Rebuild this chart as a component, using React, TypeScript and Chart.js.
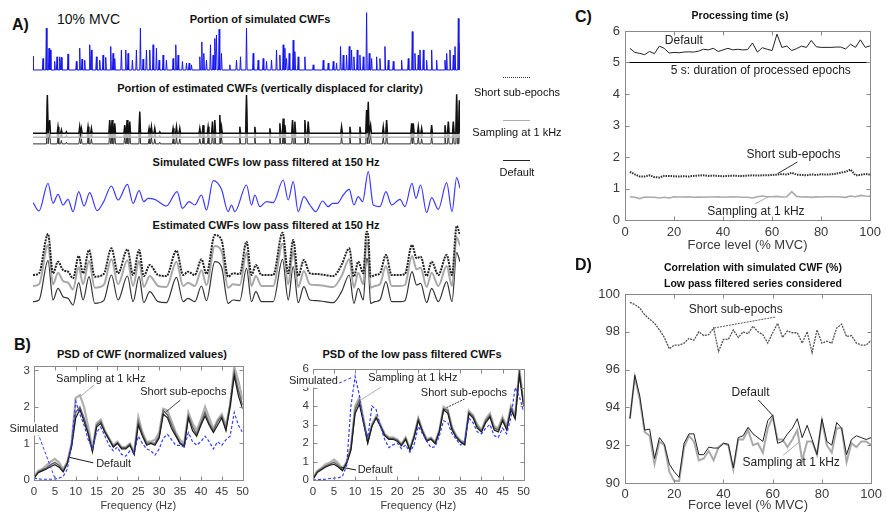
import React, { useEffect, useRef } from 'react';
import { Chart, registerables } from 'chart.js';
Chart.register(...registerables);

const FONT = '"Liberation Sans", Arial, Helvetica, sans-serif';
const TICK = '#3a3a3a';
const FRAME = '#8a8a8a';

// ---------------- Panel A (time axis in ms, 0..640) ----------------
const simSpikeTimes = [0,15,20,24,26,32.5,36,40,42.5,52.5,65,70,73.5,77.5,85,87.5,95,100,105,109,116.5,120,122.5,132.5,139,142.5,149,155,161,165,170,175,180,185,189,195,200,210,214,217.5,224,230,234,237.5,250,253,256,260,266,270,272.5,275,279,282.5,295,305,311,320,330,337.5,345,350,357.5,365,370,375,377.5,380,384,390,392.5,397.5,407.5,420,435,442.5,450,455,461,465,470,474,477.5,481,486,490,495,500,504,507.5,515,520,527.5,532.5,540,552.5,562.5,568.5,572.5,577.5,580,585,590,597.5,605,617.5,620,625,630,632.5,637.5,640];
const simSpikeHeights = [24,20,73,38,35,15,23,23,22,28,15,38,19,17,44,35,23,17,26,22,41,29,20,35,35,29,17,35,73,19,35,35,44,38,17,26,17,20,44,26,15,12,12,9,23,49,29,17,44,26,55,61,71,29,9,17,23,73,29,17,20,15,17,35,26,44,38,20,29,52,32,23,23,9,17,12,15,12,41,26,26,41,35,23,35,26,23,100,29,20,23,20,41,17,15,17,20,67,29,26,35,35,17,35,17,17,29,35,26,41,90,47];

const estSpikeTimes = [21.5,25,37.5,42.5,50,70,72.5,82.5,87.5,115,118.5,122.5,137.5,141,145,160,174,177.5,182.5,190,210,215,220,250,255,262.5,269,272.5,280,282.5,310,320,332.5,355,370,375,377.5,389,392.5,407.5,412.5,462.5,475,490,500,502.5,506,525,530,567.5,570,577.5,582.5,597.5,617.5,622.5,630,635,639];
const estSpikeHeights = [98,34,17,9,4,17,13,17,13,34,34,26,21,34,30,56,13,17,13,4,13,17,13,13,21,17,30,34,47,17,17,98,17,13,26,38,21,34,30,34,30,17,17,17,60,81,21,17,34,26,26,17,13,21,21,30,30,100,85];
// vertical displacement of the three estimates: short sub-epochs, sampling at 1 kHz, default
const estSpikeOffsets = [0, 10.3, 27];

const simSmoothTimes = [0,9,22.5,30,37.5,45,52.5,60,68.5,76.5,85,96,106,117.5,127.5,141.5,150,159,166,172.5,182.5,200,216,224,234,242.5,252.5,260,270,282.5,292.5,297.5,302.5,320,327.5,332.5,340,350,360,375,382.5,390,397.5,406,415,424,434,442.5,449,456,465,474,481,487.5,494,502.5,510,520,529,537.5,550,557.5,568,574,581,590,597.5,607.5,620,628,635,640];
const simSmoothValues = [32,7,90,30,57,25,42,5,65,22,62,8,35,82,40,87,30,68,35,45,42,22,65,15,35,25,55,10,98,72,5,25,5,85,25,55,20,35,32,100,40,95,5,50,25,5,37,20,30,30,55,72,25,50,35,125,25,20,65,25,42,20,90,45,85,2,47,12,92,5,107,75];

const estSmoothTimes = [0,9,22.5,30,37.5,45,52.5,60,68.5,75,84,92.5,106,117.5,127.5,141.5,150,159,166,175,187.5,200,215,225,232.5,242.5,252.5,260,272.5,282.5,292.5,300,310,320,327.5,334,342.5,350,360,374,382.5,390,397.5,406,415,425,437.5,450,462.5,474,481,487.5,495,500,502.5,506,512.5,520,529,537.5,550,557.5,568,575,581,590,597.5,607.5,620,628,635,640];
const estSmoothValues = [10,15,133,15,50,25,20,0,67,15,85,5,13,90,15,87,10,85,7,40,10,7,83,10,20,10,57,13,130,115,5,15,13,110,10,40,10,10,10,137,15,115,7,55,15,13,10,7,40,90,5,50,15,140,125,5,10,15,70,10,10,13,100,60,65,7,50,10,70,10,157,130];
const estSmoothOffsets = [0, 33, 80];

// ---------------- Panel B ----------------
const freqs = [0,1,2,3,4,5,6,7,8,9,10,11,12,13,14,15,16,17,18,19,20,21,22,23,24,25,26,27,28,29,30,31,32,33,34,35,36,37,38,39,40,41,42,43,44,45,46,47,48,49,50];
const psdSimulated = [0.05,0.03,0.02,0.02,0.02,0.03,0.05,0.1,0.3,1.0,2.15,1.8,1.5,1.1,0.85,1.3,1.45,1.2,0.95,0.8,0.9,0.7,0.65,0.8,0.75,1.2,1.0,0.85,0.8,0.68,0.85,1.15,1.25,1.1,0.95,0.95,0.9,1.3,1.05,0.95,1.05,1.2,1.05,0.85,1.05,0.95,1.1,1.2,1.85,1.5,1.3];
const psdDefault = [0.05,0.2,0.25,0.3,0.37,0.42,0.35,0.22,0.45,0.9,1.7,1.93,1.6,1.25,0.78,1.45,1.55,1.3,1.1,0.9,1.0,0.85,0.85,0.95,0.7,1.5,1.2,0.95,1.0,0.95,1.15,1.8,1.7,1.4,1.2,1.0,0.92,1.7,1.35,1.2,1.5,1.75,1.5,1.3,1.5,1.7,1.35,2.0,2.85,2.3,1.95];
const psdShort = [0.05,0.22,0.28,0.33,0.42,0.48,0.4,0.25,0.48,0.95,1.85,2.0,1.7,1.3,0.8,1.5,1.6,1.33,1.12,0.92,1.02,0.88,0.88,0.98,0.72,1.6,1.25,1.0,1.02,1.0,1.2,1.9,1.78,1.5,1.25,1.02,0.95,1.75,1.45,1.25,1.55,1.85,1.55,1.35,1.6,1.75,1.4,2.1,2.95,2.45,2.05];
const psdSampling = [0.08,0.25,0.3,0.4,0.5,0.58,0.48,0.3,0.5,1.0,2.25,2.32,2.0,1.45,0.85,1.55,1.65,1.35,1.15,0.95,1.05,0.9,0.9,1.0,0.75,1.72,1.3,1.05,1.05,1.1,1.3,1.95,1.9,1.6,1.3,1.1,1.0,1.85,1.55,1.35,1.65,2.0,1.7,1.4,1.65,1.8,1.5,2.0,3.1,2.7,2.2];

const lpSimulated = [0.0,0.02,0.03,0.05,0.08,0.1,0.12,0.2,0.8,4.0,5.6,4.6,3.0,2.3,4.0,3.8,2.9,2.2,1.75,1.9,2.0,1.7,1.9,1.5,1.9,2.9,2.5,2.1,1.75,1.8,2.4,3.2,3.1,2.5,2.2,1.9,2.1,3.35,3.1,2.6,2.5,2.8,3.0,2.4,2.3,2.8,2.5,3.4,5.0,4.5,3.7];
const lpDefault = [0.05,0.4,0.55,0.7,0.8,0.85,0.7,0.5,0.9,1.6,3.6,4.1,3.1,2.0,2.9,3.35,2.9,2.4,2.2,2.2,2.1,1.85,2.2,1.6,2.3,3.2,2.6,2.1,2.2,1.97,2.6,3.8,3.6,2.7,2.3,2.05,1.9,3.6,3.35,2.8,2.6,3.1,3.4,2.7,2.6,3.2,2.7,3.8,3.3,5.7,4.0];
const lpShort = [0.05,0.45,0.6,0.75,0.85,0.95,0.78,0.55,0.95,1.7,3.8,4.3,3.2,2.05,2.95,3.4,2.95,2.45,2.25,2.25,2.15,1.9,2.25,1.65,2.35,3.3,2.65,2.15,2.25,2.0,2.65,3.85,3.75,2.8,2.35,2.1,1.95,3.65,3.45,2.9,2.65,3.2,3.5,2.8,2.7,3.3,2.8,3.9,3.4,5.8,4.1];
const lpSampling = [0.1,0.5,0.65,0.85,0.95,1.1,0.9,0.6,1.0,1.8,4.0,4.45,3.3,2.1,3.0,3.45,3.0,2.5,2.3,2.3,2.2,1.95,2.3,1.7,2.4,3.35,2.7,2.2,2.3,2.05,2.7,3.95,3.8,2.85,2.4,2.15,2.0,3.75,3.5,3.0,2.7,3.3,3.6,2.9,2.8,3.4,2.9,4.0,3.5,6.0,4.2];

// ---------------- Panels C & D (force level % MVC) ----------------
const forceLevels = [2,4,6,8,10,12,14,16,18,20,22,24,26,28,30,32,34,36,38,40,42,44,46,48,50,52,54,56,58,60,62,64,66,68,70,72,74,76,78,80,82,84,86,88,90,92,94,96,98,100];
const timeDefault = [5.45,5.32,5.29,5.25,5.35,5.28,5.52,5.45,5.3,5.32,5.31,5.33,5.34,5.33,5.36,5.42,5.4,5.45,5.35,5.4,5.45,5.4,5.42,5.4,5.41,5.62,5.33,5.47,5.42,5.38,5.9,5.48,5.52,5.38,5.44,5.52,5.48,5.7,5.5,5.48,5.48,5.48,5.49,5.49,5.43,5.58,5.48,5.72,5.48,5.53];
const timeShort = [1.53,1.45,1.38,1.38,1.42,1.36,1.35,1.4,1.4,1.39,1.38,1.39,1.38,1.4,1.41,1.42,1.4,1.41,1.4,1.39,1.4,1.41,1.4,1.4,1.41,1.42,1.41,1.42,1.42,1.43,1.44,1.46,1.44,1.5,1.44,1.43,1.42,1.45,1.43,1.45,1.44,1.45,1.47,1.5,1.53,1.6,1.42,1.43,1.46,1.44];
const timeSampling = [0.74,0.72,0.68,0.73,0.72,0.72,0.7,0.72,0.7,0.74,0.73,0.73,0.74,0.72,0.73,0.72,0.73,0.73,0.74,0.72,0.73,0.74,0.73,0.72,0.72,0.7,0.74,0.76,0.74,0.74,0.75,0.73,0.74,0.9,0.75,0.73,0.74,0.72,0.74,0.73,0.74,0.74,0.74,0.73,0.72,0.76,0.74,0.78,0.76,0.75];
const epochX = [0, 100];
const epochDuration = [5, 5];

const corrShort = [99.56,99.44,99.26,98.9,98.67,98.45,98.1,97.7,97.1,97.3,97.3,97.4,97.65,97.55,98.0,97.8,97.85,98.2,96.97,97.6,97.6,98.1,97.7,98.0,97.9,98.3,98.0,97.85,97.4,97.95,98.45,97.7,98.05,97.95,97.95,97.4,98.0,96.9,98.1,97.4,97.5,97.4,98.2,98.4,97.75,97.8,97.4,97.3,97.3,97.55];
const corrDefault = [93.4,95.7,94.6,92.8,92.85,91.3,92.4,92.05,91.0,90.6,90.3,92.1,92.6,92.6,91.5,91.5,91.9,91.85,91.85,92.1,92.05,90.8,92.4,92.5,92.95,92.6,92.4,92.2,93.3,93.6,92.1,92.2,92.6,92.9,93.4,92.4,93.05,92.3,91.5,93.4,92.2,92.0,93.2,92.9,91.5,92.3,92.5,92.4,92.3,92.4];
const corrSampling = [93.4,95.6,94.4,92.7,92.5,91.0,92.2,92.0,90.6,90.1,90.1,91.9,92.5,92.2,91.2,91.3,91.7,91.2,91.9,92.1,92.0,90.7,92.3,92.3,92.8,92.0,92.1,91.6,92.9,93.5,92.3,92.3,91.9,92.3,92.8,91.2,92.2,92.2,91.5,93.3,92.0,91.6,92.9,92.9,91.1,92.1,91.9,92.2,92.2,92.0];

// ---------------- helpers ----------------
const T_END = 640;

function pts(xs: number[], ys: number[]) {
  return xs.map((x, i) => ({ x, y: ys[i] }));
}

function spikePoints(times: number[], heights: number[], w: number, offset: number) {
  const out: { x: number; y: number }[] = [];
  const base = -offset;
  if (times[0] - w > 0) out.push({ x: 0, y: base });
  times.forEach((t, i) => {
    out.push({ x: t - w, y: base }, { x: t, y: base + heights[i] }, { x: t + w, y: base });
  });
  if (times[times.length - 1] + w < T_END) out.push({ x: T_END, y: base });
  return out;
}

function line(data: any[], color: string, width: number, dash: number[] = [], extra: any = {}) {
  return {
    data, borderColor: color, borderWidth: width, borderDash: dash,
    pointRadius: 0, fill: false, tension: 0, ...extra,
  };
}

function traceConfig(datasets: any[], yMin: number, yMax: number) {
  return {
    type: 'line',
    data: { datasets },
    options: {
      animation: false, responsive: false, events: [],
      layout: { padding: 0 },
      plugins: { legend: { display: false }, tooltip: { enabled: false } },
      scales: {
        x: { type: 'linear', display: false, min: 0, max: T_END },
        y: { type: 'linear', display: false, min: yMin, max: yMax },
      },
    },
  };
}

const framePlugin = {
  id: 'frame',
  afterDatasetsDraw(chart: any) {
    const { ctx, chartArea: a } = chart;
    const xs = chart.scales.x, ys = chart.scales.y;
    ctx.save();
    ctx.strokeStyle = FRAME;
    ctx.lineWidth = 1;
    ctx.setLineDash([]);
    const L = Math.round(a.left) + 0.5, R = Math.round(a.right) + 0.5;
    const T = Math.round(a.top) + 0.5, B = Math.round(a.bottom) + 0.5;
    ctx.strokeRect(L, T, R - L, B - T);
    const tl = 4;
    ctx.beginPath();
    for (const t of xs.ticks) {
      const px = Math.round(xs.getPixelForValue(t.value)) + 0.5;
      ctx.moveTo(px, B); ctx.lineTo(px, B - tl);
      ctx.moveTo(px, T); ctx.lineTo(px, T + tl);
    }
    for (const t of ys.ticks) {
      const py = Math.round(ys.getPixelForValue(t.value)) + 0.5;
      ctx.moveTo(L, py); ctx.lineTo(L + tl, py);
      ctx.moveTo(R, py); ctx.lineTo(R - tl, py);
    }
    ctx.stroke();
    ctx.restore();
  },
};

type Note = { text: string; x: number; y: number; align?: 'left' | 'center'; bg?: boolean };
type Pointer = { x1: number; y1: number; x2: number; y2: number; color: string; width?: number; dash?: number[] };

function notesPlugin(notes: Note[], pointers: Pointer[], size: number) {
  return {
    id: 'notes',
    afterDraw(chart: any) {
      const { ctx } = chart;
      const xs = chart.scales.x, ys = chart.scales.y;
      ctx.save();
      for (const p of pointers) {
        ctx.beginPath();
        ctx.strokeStyle = p.color;
        ctx.lineWidth = p.width ?? 1;
        ctx.setLineDash(p.dash ?? []);
        ctx.moveTo(xs.getPixelForValue(p.x1), ys.getPixelForValue(p.y1));
        ctx.lineTo(xs.getPixelForValue(p.x2), ys.getPixelForValue(p.y2));
        ctx.stroke();
      }
      ctx.setLineDash([]);
      ctx.font = `${size}px ${FONT}`;
      ctx.textBaseline = 'middle';
      ctx.textAlign = 'left';
      for (const n of notes) {
        const px = xs.getPixelForValue(n.x), py = ys.getPixelForValue(n.y);
        const w = ctx.measureText(n.text).width;
        const left = n.align === 'left' ? px : px - w / 2;
        if (n.bg) {
          ctx.fillStyle = '#fff';
          ctx.fillRect(left - 1, py - size * 0.6, w + 2, size * 1.2);
        }
        ctx.fillStyle = '#222';
        ctx.fillText(n.text, left, py);
      }
      ctx.restore();
    },
  };
}

type AxisParams = {
  datasets: any[];
  xMin: number; xMax: number; xStep: number;
  yMin: number; yMax: number; yStep: number;
  xTitle: string;
  yAxisW: number; xAxisH: number; padTop: number; padRight: number;
  tickSize: number; labelSize: number; xTickPad: number; yTickPad: number;
  notes: Note[]; pointers: Pointer[]; noteSize: number;
};

function axisConfig(p: AxisParams) {
  return {
    type: 'line',
    data: { datasets: p.datasets },
    options: {
      animation: false, responsive: false, events: [],
      layout: { padding: { top: p.padTop, right: p.padRight, left: 0, bottom: 0 } },
      plugins: { legend: { display: false }, tooltip: { enabled: false } },
      scales: {
        x: {
          type: 'linear', min: p.xMin, max: p.xMax,
          afterFit: (s: any) => { s.height = p.xAxisH; },
          grid: { display: false, drawTicks: false },
          border: { display: false },
          ticks: {
            stepSize: p.xStep, autoSkip: false, maxRotation: 0, minRotation: 0, includeBounds: false,
            font: { family: FONT, size: p.tickSize }, color: TICK, padding: p.xTickPad,
          },
          title: {
            display: true, text: p.xTitle, color: TICK,
            font: { family: FONT, size: p.labelSize }, padding: { top: 0, bottom: 0 },
          },
        },
        y: {
          type: 'linear', min: p.yMin, max: p.yMax,
          afterFit: (s: any) => { s.width = p.yAxisW; },
          grid: { display: false, drawTicks: false },
          border: { display: false },
          ticks: {
            stepSize: p.yStep, autoSkip: false, includeBounds: false,
            font: { family: FONT, size: p.tickSize }, color: TICK, padding: p.yTickPad,
          },
        },
      },
    },
    plugins: [framePlugin, notesPlugin(p.notes, p.pointers, p.noteSize)],
  };
}

function ChartCanvas({ left, top, width, height, make }: { left: number; top: number; width: number; height: number; make: () => any }) {
  const ref = useRef<HTMLCanvasElement>(null);
  useEffect(() => {
    const chart = new Chart(ref.current as HTMLCanvasElement, make());
    return () => chart.destroy();
  }, []);
  return (
    <canvas ref={ref} width={width} height={height}
      style={{ position: 'absolute', left, top, width, height }} />
  );
}

function Label({ x, y, text, size, bold = false, align = 'left' }: { x: number; y: number; text: string; size: number; bold?: boolean; align?: 'left' | 'center' }) {
  const style: React.CSSProperties = {
    position: 'absolute', top: y - size * 0.6, fontSize: size, lineHeight: `${size * 1.2}px`,
    fontWeight: bold ? 'bold' : 'normal', whiteSpace: 'nowrap', color: '#111', fontFamily: FONT,
  };
  if (align === 'center') { style.left = x - 300; style.width = 600; style.textAlign = 'center'; }
  else style.left = x;
  return <div style={style}>{text}</div>;
}

function LegendLine({ x, y, w, style }: { x: number; y: number; w: number; style: string }) {
  return <div style={{ position: 'absolute', left: x, top: y, width: w, height: 0, borderTop: style }} />;
}

// ---------------- colours ----------------
const BLUE = '#3340ff';
const DARK = '#1a1a1a';
const MID = '#666666';
const LIGHT = '#b0b0b0';

export default function App() {
  const simSpikes = () => traceConfig([
    line(spikePoints(simSpikeTimes, simSpikeHeights, 0.9, 0), '#1414ee', 1),
  ], -3.5, 104.7);

  const estSpikes = () => traceConfig([
    line(spikePoints(estSpikeTimes, estSpikeHeights, 1.2, estSpikeOffsets[0]), '#111', 1.5),
    line(spikePoints(estSpikeTimes, estSpikeHeights, 1.2, estSpikeOffsets[1]), '#b8b8b8', 1.5),
    line(spikePoints(estSpikeTimes, estSpikeHeights, 1.2, estSpikeOffsets[2]), '#333', 1),
  ], -35, 106);

  const simSmooth = () => traceConfig([
    line(pts(simSmoothTimes, simSmoothValues), '#3a3aff', 1.2, [], { cubicInterpolationMode: 'monotone' }),
  ], -8, 136);

  const estSmooth = () => traceConfig(estSmoothOffsets.map((off, k) => {
    const data = estSmoothTimes.map((t, i) => ({ x: t, y: estSmoothValues[i] - off }));
    const styles = [
      { c: '#222', w: 2, d: [2, 1] },
      { c: '#a8a8a8', w: 2, d: [] },
      { c: '#333', w: 1.2, d: [] },
    ][k];
    return line(data, styles.c, styles.w, styles.d, { cubicInterpolationMode: 'monotone' });
  }), -101, 163);

  const bLeft = () => axisConfig({
    datasets: [
      line(pts(freqs, psdSimulated), BLUE, 1.2, [3, 2]),
      line(pts(freqs, psdDefault), DARK, 1.2),
      line(pts(freqs, psdShort), MID, 1.5),
      line(pts(freqs, psdSampling), LIGHT, 2.2),
    ],
    xMin: 0, xMax: 50, xStep: 5, yMin: 0, yMax: 3.12, yStep: 1,
    xTitle: 'Frequency (Hz)',
    yAxisW: 34, xAxisH: 33, padTop: 26, padRight: 8,
    tickSize: 11.5, labelSize: 11, xTickPad: 5, yTickPad: 4,
    noteSize: 11,
    notes: [
      { text: 'Sampling at 1 kHz', x: 16.0, y: 2.77 },
      { text: 'Short sub-epochs', x: 35.8, y: 2.41 },
      { text: 'Default', x: 14.9, y: 0.44, align: 'left' },
      { text: 'Simulated', x: 0, y: 1.4, bg: true },
    ],
    pointers: [
      { x1: 14.4, y1: 2.6, x2: 11.3, y2: 2.3, color: LIGHT },
      { x1: 35.1, y1: 2.19, x2: 31.5, y2: 1.85, color: '#444' },
      { x1: 14.2, y1: 0.47, x2: 8.5, y2: 0.62, color: DARK },
      { x1: 0.9, y1: 1.29, x2: 5, y2: 0.05, color: BLUE, dash: [3, 2] },
    ],
  });

  const bRight = () => axisConfig({
    datasets: [
      line(pts(freqs, lpSimulated), BLUE, 1.2, [3, 2]),
      line(pts(freqs, lpDefault), DARK, 1.2),
      line(pts(freqs, lpShort), MID, 1.5),
      line(pts(freqs, lpSampling), LIGHT, 2.2),
    ],
    xMin: 0, xMax: 50, xStep: 5, yMin: 0, yMax: 6, yStep: 1,
    xTitle: 'Frequency (Hz)',
    yAxisW: 38, xAxisH: 33, padTop: 29, padRight: 8,
    tickSize: 11.5, labelSize: 11, xTickPad: 5, yTickPad: 4,
    noteSize: 11,
    notes: [
      { text: 'Simulated', x: 0.1, y: 5.35, bg: true },
      { text: 'Sampling at 1 kHz', x: 23.7, y: 5.51 },
      { text: 'Short sub-epochs', x: 25.6, y: 4.7, align: 'left' },
      { text: 'Default', x: 10.6, y: 0.54, align: 'left' },
    ],
    pointers: [
      { x1: 6.2, y1: 5.24, x2: 9.3, y2: 5.55, color: BLUE, dash: [3, 2] },
      { x1: 16.2, y1: 5.03, x2: 11.2, y2: 4.3, color: LIGHT },
      { x1: 36, y1: 4.38, x2: 31.6, y2: 3.9, color: '#333', dash: [2, 1] },
      { x1: 10.2, y1: 0.54, x2: 6.6, y2: 0.7, color: DARK },
    ],
  });

  const cChart = () => axisConfig({
    datasets: [
      line(pts(forceLevels, timeDefault), '#222', 1),
      line(pts(epochX, epochDuration), '#000', 1.2),
      line(pts(forceLevels, timeShort), '#333', 2, [1.5, 1]),
      line(pts(forceLevels, timeSampling), '#aaa', 1.6),
    ],
    xMin: 0, xMax: 100, xStep: 20, yMin: 0, yMax: 6, yStep: 1,
    xTitle: 'Force level (% MVC)',
    yAxisW: 37, xAxisH: 33, padTop: 31, padRight: 12,
    tickSize: 13, labelSize: 13, xTickPad: 5, yTickPad: 5,
    noteSize: 12,
    notes: [
      { text: 'Default', x: 24, y: 5.68 },
      { text: '5 s: duration of processed epochs', x: 55.4, y: 4.73 },
      { text: 'Short sub-epochs', x: 68.7, y: 2.06 },
      { text: 'Sampling at 1 kHz', x: 53.4, y: 0.25 },
    ],
    pointers: [
      { x1: 70.3, y1: 1.84, x2: 62.2, y2: 1.47, color: '#333' },
      { x1: 53, y1: 0.51, x2: 59, y2: 0.76, color: '#aaa' },
    ],
  });

  const dChart = () => axisConfig({
    datasets: [
      line(pts(forceLevels, corrDefault), '#222', 1),
      line(pts(forceLevels, corrShort), '#555', 1.3, [2, 1]),
      line(pts(forceLevels, corrSampling), '#aaa', 2),
    ],
    xMin: 0, xMax: 100, xStep: 20, yMin: 90, yMax: 100, yStep: 2,
    xTitle: 'Force level (% MVC)',
    yAxisW: 37, xAxisH: 30, padTop: 36, padRight: 12,
    tickSize: 13, labelSize: 13, xTickPad: 4, yTickPad: 5,
    noteSize: 12,
    notes: [
      { text: 'Short sub-epochs', x: 45, y: 99.15 },
      { text: 'Default', x: 51, y: 94.76 },
      { text: 'Sampling at 1 kHz', x: 67.5, y: 91.1 },
    ],
    pointers: [
      { x1: 61, y1: 98.78, x2: 36.1, y2: 98.2, color: '#555', dash: [2, 1] },
      { x1: 54.2, y1: 94.39, x2: 59.8, y2: 93.6, color: '#222' },
      { x1: 64.3, y1: 91.48, x2: 71.1, y2: 92.2, color: '#aaa' },
    ],
  });

  return (
    <div style={{ position: 'absolute', left: 0, top: 0, width: 886, height: 513, background: '#fff', overflow: 'hidden', fontFamily: FONT }}>
      {/* Panel A */}
      <Label x={12} y={25} text="A)" size={16} bold />
      <Label x={57} y={19} text="10% MVC" size={14} />
      <Label x={260} y={20} text="Portion of simulated CWFs" size={11} bold align="center" />
      <Label x={270} y={89} text="Portion of estimated CWFs (vertically displaced for clarity)" size={11} bold align="center" />
      <Label x={266} y={163} text="Simulated CWFs low pass filtered at 150 Hz" size={11} bold align="center" />
      <Label x={266} y={226} text="Estimated CWFs low pass filtered at 150 Hz" size={11} bold align="center" />
      <ChartCanvas left={33} top={10} width={427} height={62} make={simSpikes} />
      <ChartCanvas left={33} top={92} width={427} height={55} make={estSpikes} />
      <ChartCanvas left={33} top={168} width={427} height={48} make={simSmooth} />
      <ChartCanvas left={33} top={224} width={427} height={88} make={estSmooth} />

      <LegendLine x={503} y={77} w={27} style="1px dotted #333" />
      <Label x={517} y={93} text="Short sub-epochs" size={11} align="center" />
      <LegendLine x={503} y={120} w={27} style="1px solid #aaa" />
      <Label x={517} y={133} text="Sampling at 1 kHz" size={11} align="center" />
      <LegendLine x={503} y={160} w={27} style="1px solid #222" />
      <Label x={517} y={173} text="Default" size={11} align="center" />

      {/* Panel B */}
      <Label x={14} y={345} text="B)" size={16} bold />
      <Label x={142} y={355} text="PSD of CWF (normalized values)" size={11} bold align="center" />
      <Label x={412} y={355} text="PSD of the low pass filtered CWFs" size={11} bold align="center" />
      <ChartCanvas left={0} top={340} width={254} height={173} make={bLeft} />
      <ChartCanvas left={275} top={340} width={260} height={173} make={bRight} />

      {/* Panel C */}
      <Label x={575} y={17} text="C)" size={16} bold />
      <Label x={740} y={15} text="Processing time (s)" size={10.5} bold align="center" />
      <ChartCanvas left={588} top={0} width={298} height={253} make={cChart} />

      {/* Panel D */}
      <Label x={575} y={265} text="D)" size={16} bold />
      <Label x={753} y={267} text="Correlation with simulated CWF (%)" size={10.5} bold align="center" />
      <Label x={753} y={283} text="Low pass filtered series considered" size={10.5} bold align="center" />
      <ChartCanvas left={588} top={258} width={298} height={255} make={dChart} />
    </div>
  );
}
